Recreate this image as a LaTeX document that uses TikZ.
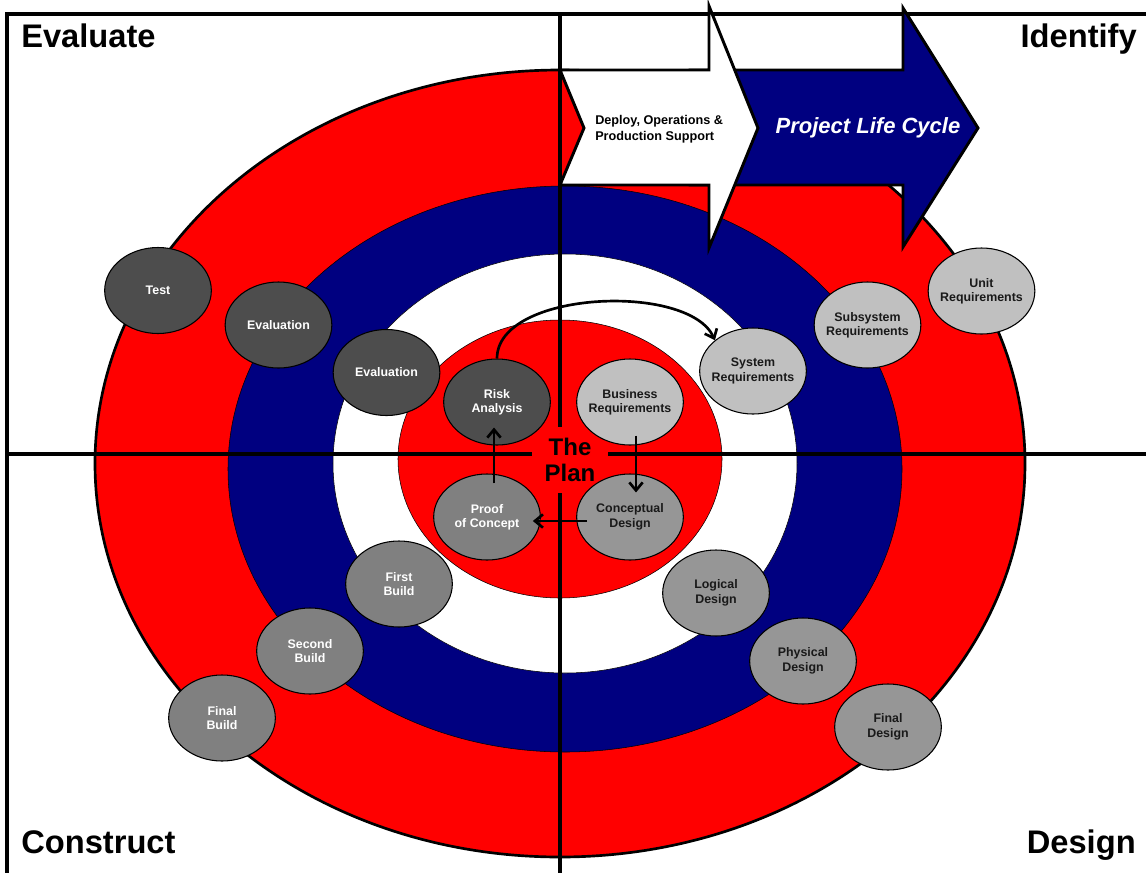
\documentclass[tikz,border=0pt]{standalone}
\usepackage{fontspec}
\setmainfont{Liberation Sans}
\usetikzlibrary{shapes,positioning,calc,arrows.meta}
\definecolor{plred}{RGB}{255,0,0}
\definecolor{plblue}{RGB}{0,0,128}
\definecolor{dkgray}{RGB}{77,77,77}
\definecolor{mdgray}{RGB}{128,128,128}
\definecolor{ltgray}{RGB}{150,150,150}
\definecolor{pale}{RGB}{192,192,192}

\begin{document}
\begin{tikzpicture}[x=0.75pt,y=-0.75pt,
    phase/.style={ellipse, draw, line width=0.8pt, minimum width=80pt, minimum height=64.5pt,
      inner xsep=-14pt, inner ysep=0pt, align=center, font=\fontsize{9.3}{10.8}\selectfont\bfseries},
    dark/.style={phase, fill=dkgray, text=white},
    mid/.style={phase, fill=mdgray, text=white},
    light/.style={phase, fill=ltgray, text=black!90},
    pale/.style={phase, fill=pale, text=black!90},
    corner/.style={inner sep=0pt, font=\fontsize{24.5}{26}\selectfont\bfseries},
    flow/.style={line width=2pt, -{Straight Barb[length=6pt,width=10pt]}},
    band/.style={line width=2.2pt, line join=miter}]
    \useasboundingbox (0,0) rectangle (1146,872);
    \clip (0,0) rectangle (1146,872);
    \draw[line width=2pt, fill=plred] (560,463.5) ellipse [x radius=465, y radius=393.5];
    \draw[line width=0.4pt, fill=plblue] (565,469) ellipse [x radius=337, y radius=283];
    \draw[line width=0.4pt, fill=white] (565,463.5) ellipse [x radius=232, y radius=209.5];
    \draw[line width=0.4pt, fill=plred] (560,459) ellipse [x radius=162, y radius=139];
    \draw[line width=2.3pt] (560,14) -- (560,880);
    \draw[line width=2.3pt] (7,454) -- (1150,454);
    \draw[line width=2.6pt] (7,880) -- (7,14) -- (1150,14);
    \node[fill=plred, minimum width=57pt, minimum height=49.5pt, inner sep=0pt, align=center,
      font=\fontsize{18}{19.5}\selectfont\bfseries] (plan) at (570,460) {The\\Plan};
    \draw[band, fill=plblue] (690,70) -- (903,70) -- (903,8) -- (978,128) -- (903,247) -- (903,185) -- (690,185) -- cycle;
    \draw[band, fill=white] (560,70) -- (709,70) -- (709,6) -- (758,128) -- (709,248) -- (709,185) -- (560,185) -- (584,128) -- cycle;
    \node[anchor=west, inner sep=0pt, align=left, font=\fontsize{9.5}{12}\selectfont\bfseries] (dep) at (595,129)
      {Deploy, Operations \&\\Production Support};
    \node[text=white, font=\fontsize{16.5}{19}\selectfont\bfseries\itshape] (plc) at (868,128) {Project Life Cycle};

    \node[dark] (test) at (158,290.5) {Test};
    \node[dark] (ev2) at (278.5,325) {Evaluation};
    \node[dark] (ev1) at (386.5,372.5) {Evaluation};
    \node[dark] (ra) at (497,402) {Risk\\Analysis};
    \node[pale] (br) at (630,402) {Business\\Requirements};
    \node[light] (cd) at (630,517) {Conceptual\\Design};
    \node[mid] (poc) at (487,517) {Proof\\of Concept};
    \node[pale] (sr) at (753,371) {System\\Requirements};
    \node[pale] (ssr) at (867.5,325) {Subsystem\\Requirements};
    \node[pale] (ur) at (981.5,291) {Unit\\Requirements};
    \node[mid] (fb) at (399,584) {First\\Build};
    \node[mid] (sb) at (310,651) {Second\\Build};
    \node[mid] (fnb) at (222,718) {Final\\Build};
    \node[light] (ld) at (716,593) {Logical\\Design};
    \node[light] (pd) at (803,661) {Physical\\Design};
    \node[light] (fnd) at (888,727) {Final\\Design};

    \draw[flow] ([shift={(6,-10)}]br.south) -- ([shift={(6,19)}]cd.north);
    \draw[flow] ([shift={(11,4)}]cd.west) -- ([shift={(-8,4)}]poc.east);
    \draw[flow] ([shift={(7,10)}]poc.north) -- ([shift={(-3,-18)}]ra.south);
    \draw[flow] (ra.north) .. controls +(0,-68) and +(-26,-58) .. (sr.north west);

    \node[corner, anchor=base west] (evl) at (21,47) {Evaluate};
    \node[corner, anchor=base east] (idn) at (1137,47) {Identify};
    \node[corner, anchor=base west] (cns) at (21,853) {Construct};
    \node[corner, anchor=base east] (dsg) at (1136,853) {Design};
  \end{tikzpicture}
\end{document}
